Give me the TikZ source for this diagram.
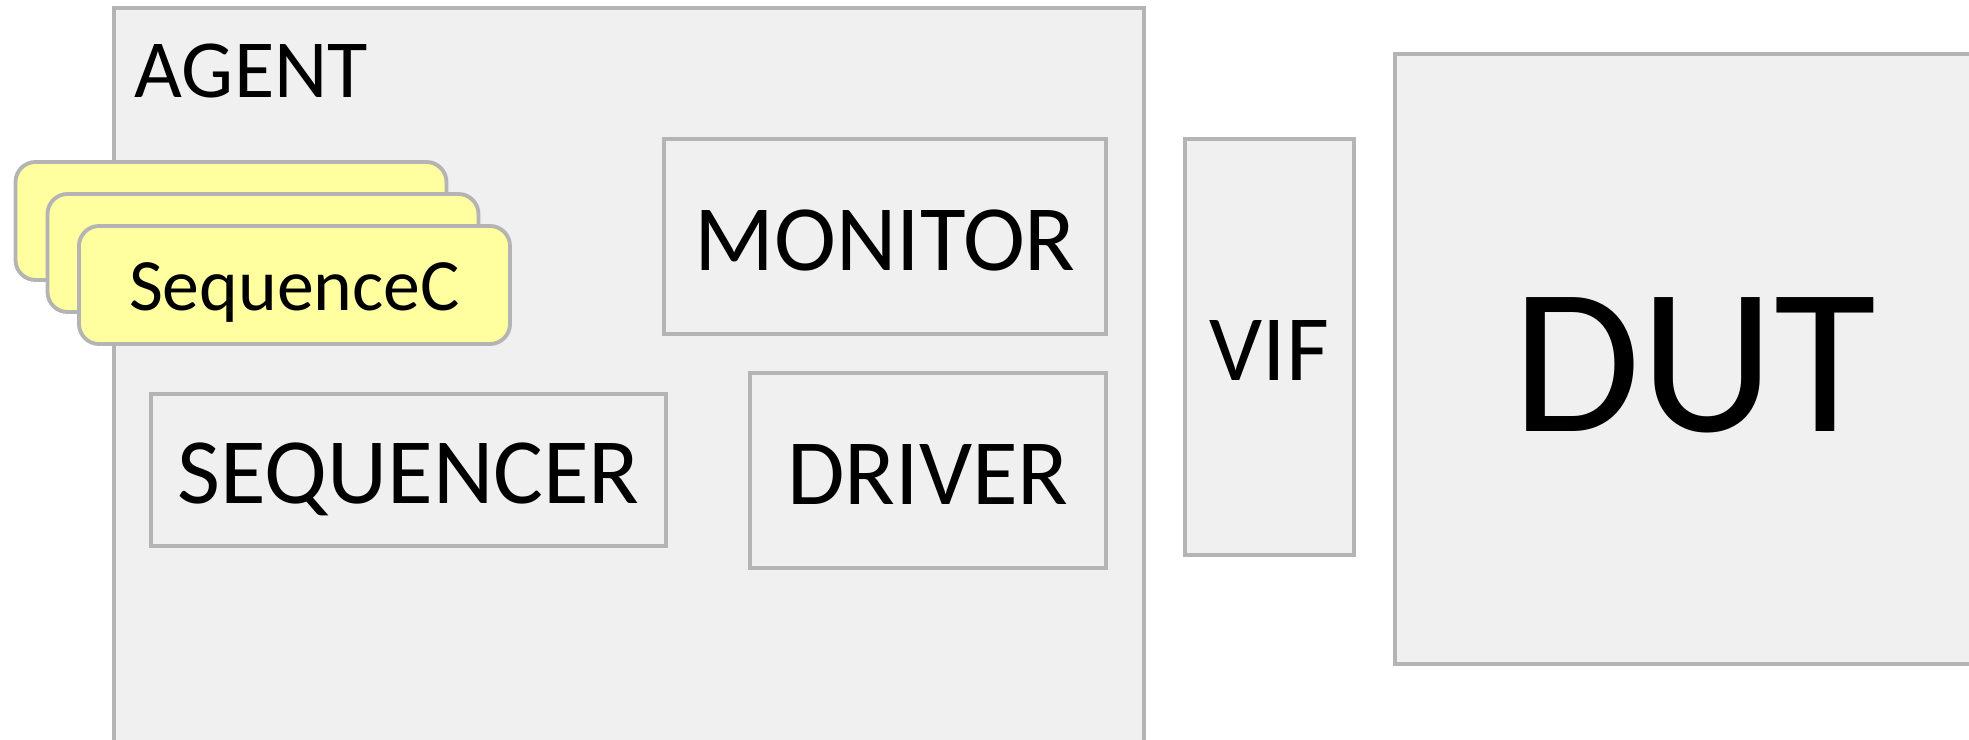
\documentclass[tikz,border=0pt]{standalone}
\usepackage{fontspec}
\setmainfont{Carlito}
\definecolor{boxgray}{HTML}{B4B4B4}
\definecolor{boxfill}{HTML}{F0F0F0}
\definecolor{cardfill}{HTML}{FFFFA0}
\begin{document}
\begin{tikzpicture}
  \useasboundingbox (0,0) rectangle (19.69,-7.39);
  \clip (0,0) rectangle (19.69,-7.39);
  \begin{scope}[every node/.style={draw=boxgray,fill=boxfill,line width=1.1pt,rectangle,inner sep=0pt}]
  \node[minimum width=10.30cm,minimum height=7.70cm] (agent) at (6.29,-3.93) {};
  \end{scope}
  \node[anchor=base west,inner sep=0pt,font=\fontsize{23.5}{28}\selectfont] (agentlbl) at (1.34,-0.975) {AGENT};
  \begin{scope}[every node/.style={draw=boxgray,fill=cardfill,line width=1.1pt,rounded corners=0.2cm,inner sep=0pt,text height=14.6pt,text depth=0pt,minimum width=4.31cm,minimum height=1.18cm,font=\fontsize{21}{25}\selectfont}]
  \node (card1) at (2.31,-2.21) {};
  \node (card2) at (2.63,-2.53) {};
  \node (card3) at (2.945,-2.85) {SequenceC};
  \end{scope}
  \begin{scope}[every node/.style={draw=boxgray,fill=boxfill,line width=1.1pt,rectangle,inner sep=0pt,text height=19.3pt,text depth=0pt,font=\fontsize{26.6}{30}\selectfont}]
  \node[minimum width=4.42cm,minimum height=1.95cm] (mon) at (8.85,-2.365) {MONITOR};
  \node[minimum width=5.15cm,minimum height=1.52cm] (seqr) at (4.085,-4.70) {SEQUENCER};
  \node[minimum width=3.56cm,minimum height=1.95cm] (drv) at (9.28,-4.705) {DRIVER};
  \node[minimum width=1.69cm,minimum height=4.16cm] (vif) at (12.695,-3.47) {VIF};
  \node[minimum width=5.99cm,minimum height=6.10cm,text height=41.1pt,font=\fontsize{59.4}{66}\selectfont] (dut) at (16.945,-3.59) {DUT};
  \end{scope}
\end{tikzpicture}
\end{document}
